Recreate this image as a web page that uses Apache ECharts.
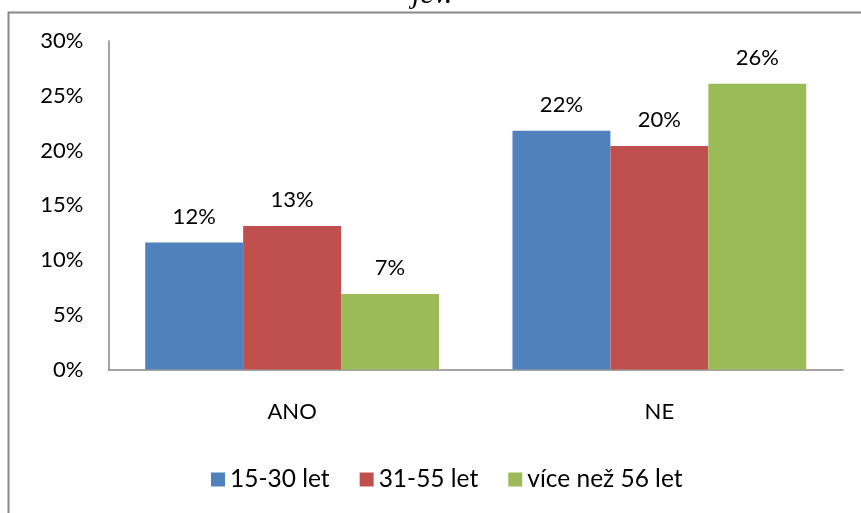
<!DOCTYPE html>
<html>
<head>
<meta charset="utf-8">
<style>
    html, body { margin: 0; padding: 0; background: #ffffff; }
    #main { width: 861px; height: 513px; }
</style>
</head>
<body>
<div id="main"></div>
<script src="https://cdn.jsdelivr.net/npm/echarts@6/dist/echarts.min.js"></script>
<script>
// kategorie a hodnoty (v %)
var categories = ['ANO', 'NE'];
var seriesNames = ['15-30 let', '31-55 let', 'více než 56 let'];
var young = [11.6, 21.8];
var middle = [13.1, 20.4];
var older = [6.9, 26.1];
var colors = ['#4F81BD', '#C0504D', '#9BBB59'];

var font = 'Lato, "Open Sans", sans-serif';
var myChart = echarts.init(document.getElementById('main'));

function barSeries(name, data, color) {
    return {
        name: name,
        type: 'bar',
        data: data,
        barGap: 0,
        barCategoryGap: '20%',
        itemStyle: { color: color },
        label: {
            show: true,
            position: 'top',
            distance: 15,
            color: '#000',
            fontFamily: font,
            fontSize: 22,
            formatter: function (p) { return Math.round(p.value) + '%'; }
        }
    };
}

var option = {
    animation: false,
    color: colors,
    graphic: [
        { // rámeček grafu
            type: 'rect',
            shape: { x: 8.5, y: 12.5, width: 900, height: 600 },
            style: { fill: 'none', stroke: '#888888', lineWidth: 2 }
        },
        { // oříznutý text nad grafem
            type: 'text',
            x: 412, y: -20,
            style: { text: 'jev.', font: 'italic 30px "Liberation Serif", serif', fill: '#000' }
        }
    ],
    grid: { left: 108.5, right: 18, top: 41, bottom: 143.5 },
    legend: {
        left: 211,
        top: 467,
        padding: 0,
        itemWidth: 14,
        itemHeight: 14,
        itemGap: 30,
        icon: 'rect',
        textStyle: { fontFamily: font, fontSize: 24.5, color: '#000' },
        data: seriesNames
    },
    xAxis: {
        type: 'category',
        data: categories,
        axisLine: { lineStyle: { color: '#868686', width: 1.5 } },
        axisTick: { show: false },
        axisLabel: { margin: 31, color: '#000', fontFamily: font, fontSize: 22 }
    },
    yAxis: {
        type: 'value',
        min: 0,
        max: 30,
        interval: 5,
        axisLine: { show: true, lineStyle: { color: '#868686', width: 1.5 } },
        axisTick: { show: false },
        splitLine: { show: false },
        axisLabel: { margin: 25, color: '#000', fontFamily: font, fontSize: 22, formatter: '{value}%' }
    },
    series: [
        barSeries(seriesNames[0], young, colors[0]),
        barSeries(seriesNames[1], middle, colors[1]),
        barSeries(seriesNames[2], older, colors[2])
    ]
};
myChart.setOption(option);
</script>
</body>
</html>
